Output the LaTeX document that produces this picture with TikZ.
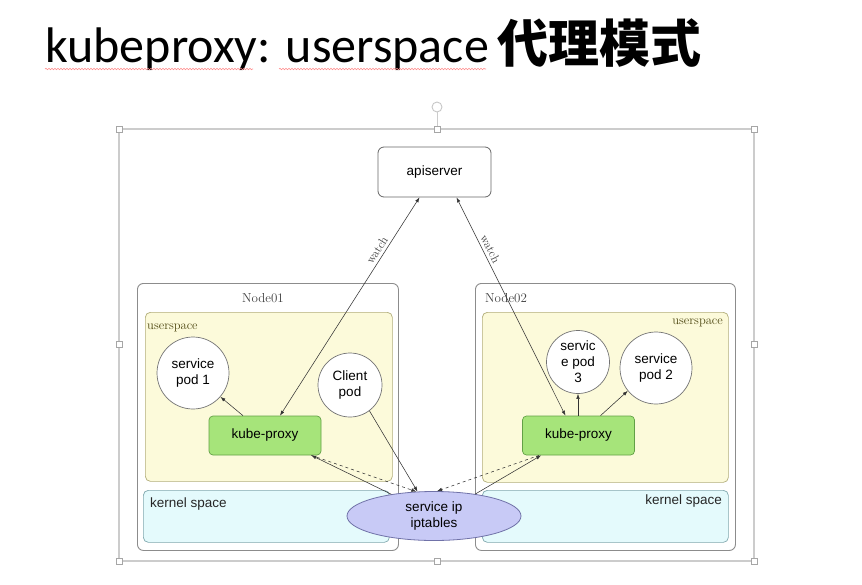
\documentclass[tikz,border=0pt]{standalone}
\usepackage{fontspec}
\setsansfont{Liberation Sans}
\newfontfamily\titlefont{Carlito}
\newfontfamily\cjk{Noto Sans CJK SC}
\usepackage{tikz}
\usetikzlibrary{positioning}
\usetikzlibrary{calc}
\usetikzlibrary{shapes.geometric}
\usetikzlibrary{arrows.meta}
\usetikzlibrary{decorations.pathmorphing}

\definecolor{userfill}{RGB}{252,250,218}
\definecolor{userline}{RGB}{178,174,122}
\definecolor{kernfill}{RGB}{228,250,252}
\definecolor{kernline}{RGB}{128,168,174}
\definecolor{proxyfill}{RGB}{166,228,122}
\definecolor{proxyline}{RGB}{98,160,70}
\definecolor{iptfill}{RGB}{200,202,246}
\definecolor{iptline}{RGB}{112,114,168}
\definecolor{userlabel}{RGB}{78,72,18}

\begin{document}
\begin{tikzpicture}[x=1pt, y=-1pt, >={Latex[length=5pt, width=3.6pt]},
    every node/.style={font=\sffamily\fontsize{13.5}{16}\selectfont, inner sep=0pt},
    frame/.style={draw=black!20, line width=1.1pt},
    handle/.style={draw=black!35, fill=white, line width=0.7pt, minimum size=6pt},
    hostbox/.style={draw=black!45, line width=0.9pt, fill=white, rounded corners=6pt, anchor=north west},
    userbox/.style={draw=userline, line width=0.7pt, fill=userfill, rounded corners=5pt, anchor=north west},
    kernbox/.style={draw=kernline, line width=0.7pt, fill=kernfill, rounded corners=5pt, anchor=north west},
    pod/.style={circle, draw=black!55, line width=0.7pt, fill=white, align=center},
    proxy/.style={draw=proxyline, line width=0.7pt, fill=proxyfill, rounded corners=4pt, minimum width=112pt, minimum height=39pt},
    serif/.style={font=\rmfamily\fontsize{13}{15}\selectfont, text=black!75},
    link/.style={->, line width=0.55pt, draw=black!80}]

        \fill[white] (0,0) rectangle (862,584);
        \useasboundingbox (0,0) rectangle (862,584);

        % Title
        \node[anchor=base west, font=\titlefont\fontsize{50}{60}\selectfont] (title) at (45,62)
          {kubeproxy: userspace\hspace{9pt}{\cjk\bfseries\fontsize{51}{60}\selectfont 代理模式}};
        \draw[red!45, line width=0.6pt, decorate, decoration={snake, amplitude=0.7pt, segment length=3pt}] (45,69) -- (253,69);
        \draw[red!45, line width=0.6pt, decorate, decoration={snake, amplitude=0.7pt, segment length=3pt}] (279,69) -- (486,69);

        % Selection frame with its handles
        \draw[frame] (119,129) rectangle (754,561);
        \foreach \x/\y in {119/129, 437/129, 754/129, 119/344, 754/344, 119/561, 437/561, 754/561} {
          \node[handle] (h-\x-\y) at (\x,\y) {};
        }
        \node[circle, draw=black!22, line width=0.9pt, minimum size=10pt] (rot) at (437,107) {};
        \draw[frame, line width=0.8pt] (rot) -- (h-437-129);

        % apiserver
        \node[draw=black!60, line width=0.8pt, rounded corners=6pt, fill=white, minimum width=113pt, minimum height=50pt] (api) at (434.5,172) {apiserver};

        % Node01
        \node[hostbox, minimum width=261pt, minimum height=267pt] (node01) at (137,283) {};
        \node[serif] (n01label) at (263,298) {Node01};
        \node[userbox, minimum width=247pt, minimum height=169pt] (user01) at (145,312) {};
        \node[serif, text=userlabel, font=\rmfamily\fontsize{12.5}{15}\selectfont, anchor=west] (u01label) at (147,328) {userspace};
        \node[kernbox, minimum width=246pt, minimum height=52pt] (kern01) at (143,490) {};
        \node[anchor=west, text=black!85] (k01label) at (150,504) {kernel space};

        % Node02
        \node[hostbox, minimum width=260pt, minimum height=267pt] (node02) at (475,283) {};
        \node[serif, anchor=west] (n02label) at (485,298) {Node02};
        \node[userbox, minimum width=246pt, minimum height=170pt] (user02) at (482,312) {};
        \node[serif, text=userlabel, font=\rmfamily\fontsize{12.5}{15}\selectfont, anchor=east] (u02label) at (723,323) {userspace};
        \node[kernbox, minimum width=246pt, minimum height=52pt] (kern02) at (482,490) {};
        \node[anchor=east, text=black!85] (k02label) at (722,501) {kernel space};

        % Pods and proxies
        \node[pod, minimum size=72pt] (pod1) at (193,373) {service\\pod 1};
        \node[pod, minimum size=64pt] (client) at (350,385) {Client\\pod};
        \node[pod, minimum size=63pt] (pod3) at (578,362) {servic\\e pod\\3};
        \node[pod, minimum size=72pt] (pod2) at (656,368) {service\\pod 2};
        \node[proxy] (kp1) at (265,435.5) {kube-proxy};
        \node[proxy] (kp2) at (578.5,435.5) {kube-proxy};

        % service ip
        \node[ellipse, draw=iptline, line width=0.8pt, fill=iptfill, minimum width=174pt, minimum height=49pt, align=center] (ipt) at (434,516) {service ip\\iptables};

        % watch links
        \draw[link, <->] ($(kp1.north)+(15,0)$) -- node[pos=0.74, sloped, above=3pt, serif, font=\rmfamily\fontsize{12}{14}\selectfont] {watch} ($(api.south)+(-15,0)$);
        \draw[link, <->] ($(api.south)+(22,0)$) -- node[pos=0.25, sloped, above=3pt, serif, font=\rmfamily\fontsize{12}{14}\selectfont] {watch} ($(kp2.north)+(-13,0)$);

        % proxy to pods
        \draw[link] ($(kp1.north)+(-22,0)$) -- (pod1.-41);
        \draw[link] (kp2.north -| pod3.south) -- (pod3.south);
        \draw[link] ($(kp2.north)+(22,0)$) -- (pod2.-141);

        % traffic through iptables
        \draw[link] (client.-53) -- (ipt.124);
        \draw[link] (ipt.153) -- ($(kp1.south east)+(-10,0)$);
        \draw[link, dashed] ($(kp1.south east)+(-10,0)$) -- (ipt.126);
        \draw[link] (ipt.28) -- ($(kp2.south west)+(19,0)$);
        \draw[link, dashed] ($(kp2.south west)+(17,0)$) -- (ipt.83);
      \end{tikzpicture}
\end{document}
